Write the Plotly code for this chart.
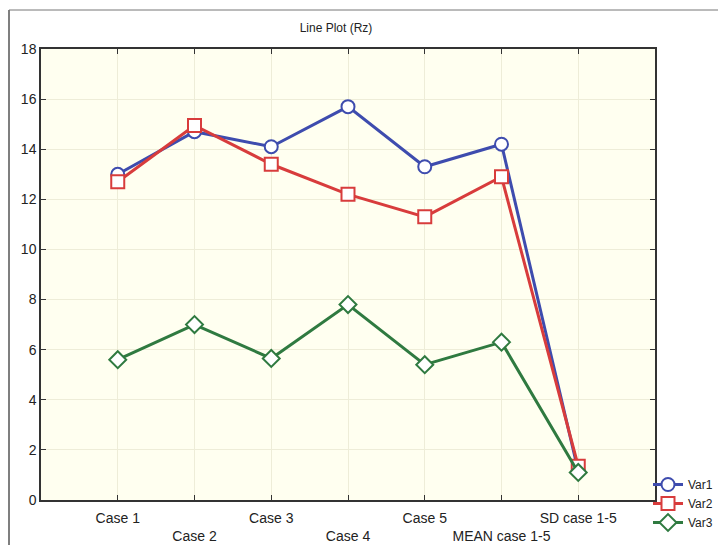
import plotly.graph_objects as go

categories = ["Case 1", "Case 2", "Case 3", "Case 4", "Case 5", "MEAN case 1-5", "SD case 1-5"]
tick_labels = ["Case 1", "<br>Case 2", "Case 3", "<br>Case 4", "Case 5", "<br>MEAN case 1-5", "SD case 1-5"]
var1 = [13.0, 14.7, 14.1, 15.7, 13.3, 14.2, 1.15]
var2 = [12.7, 14.95, 13.4, 12.2, 11.3, 12.9, 1.35]
var3 = [5.6, 7.0, 5.65, 7.8, 5.4, 6.3, 1.1]

x = list(range(len(categories)))

W, H = 718, 537  # page body has an 8px margin
fig = go.Figure()
series = [
    ("Var1", var1, "#3e4cae", "circle"),
    ("Var2", var2, "#d83c3c", "square"),
    ("Var3", var3, "#2f7a40", "diamond"),
]
for name, vals, color, sym in series:
    fig.add_trace(go.Scatter(
        x=x, y=vals, name=name, mode="lines+markers",
        line=dict(color=color, width=3),
        marker=dict(symbol=sym, size=13, color="white",
                    line=dict(color=color, width=2)),
    ))

fig.update_layout(
    width=W, height=H,
    margin=dict(l=33, r=71, t=41, b=45, autoexpand=False),
    paper_bgcolor="white",
    plot_bgcolor="#fffff0",
    font=dict(family="Liberation Sans, Arial, sans-serif", size=13, color="#222"),
    title=dict(text="Line Plot (Rz)", x=(336 - 8) / W, xanchor="center", y=1 - (28 - 8) / H, yanchor="middle",
               font=dict(size=12, color="#222")),
    showlegend=True,
    legend=dict(x=(648 - 41) / 614, xref="paper", y=1 - (470 - 8) / H, yref="container",
                xanchor="left", yanchor="top",
                bgcolor="rgba(0,0,0,0)", font=dict(size=12), tracegroupgap=0, itemwidth=30),
    xaxis=dict(range=[-1, 7], tickvals=x, ticktext=tick_labels, tickangle=0, showgrid=True,
               gridcolor="#eeedd8", zeroline=False,
               showline=True, linecolor="#333", linewidth=1.5, mirror="ticks",
               ticks="inside", ticklen=5, tickcolor="#333", tickfont=dict(size=14),
               ticklabelstandoff=4),
    yaxis=dict(range=[0, 18], dtick=2, showgrid=True, gridcolor="#eeedd8",
               zeroline=False, showline=True, linecolor="#333", linewidth=1.5, mirror="ticks",
               ticks="inside", ticklen=5, tickcolor="#333", tickfont=dict(size=14)),
)
# outer frame like the original window border
fig.add_shape(type="line", xref="paper", yref="paper",
              x0=(9 - 41) / 614, x1=(9 - 41) / 614, y0=-45 / 451, y1=(500 - 10) / 451,
              line=dict(color="#555", width=1.5))
fig.add_shape(type="line", xref="paper", yref="paper",
              x0=(9 - 41) / 614, x1=(722 - 41) / 614, y0=(500 - 10) / 451, y1=(500 - 10) / 451,
              line=dict(color="#777", width=1))

fig.write_html("out.html")
